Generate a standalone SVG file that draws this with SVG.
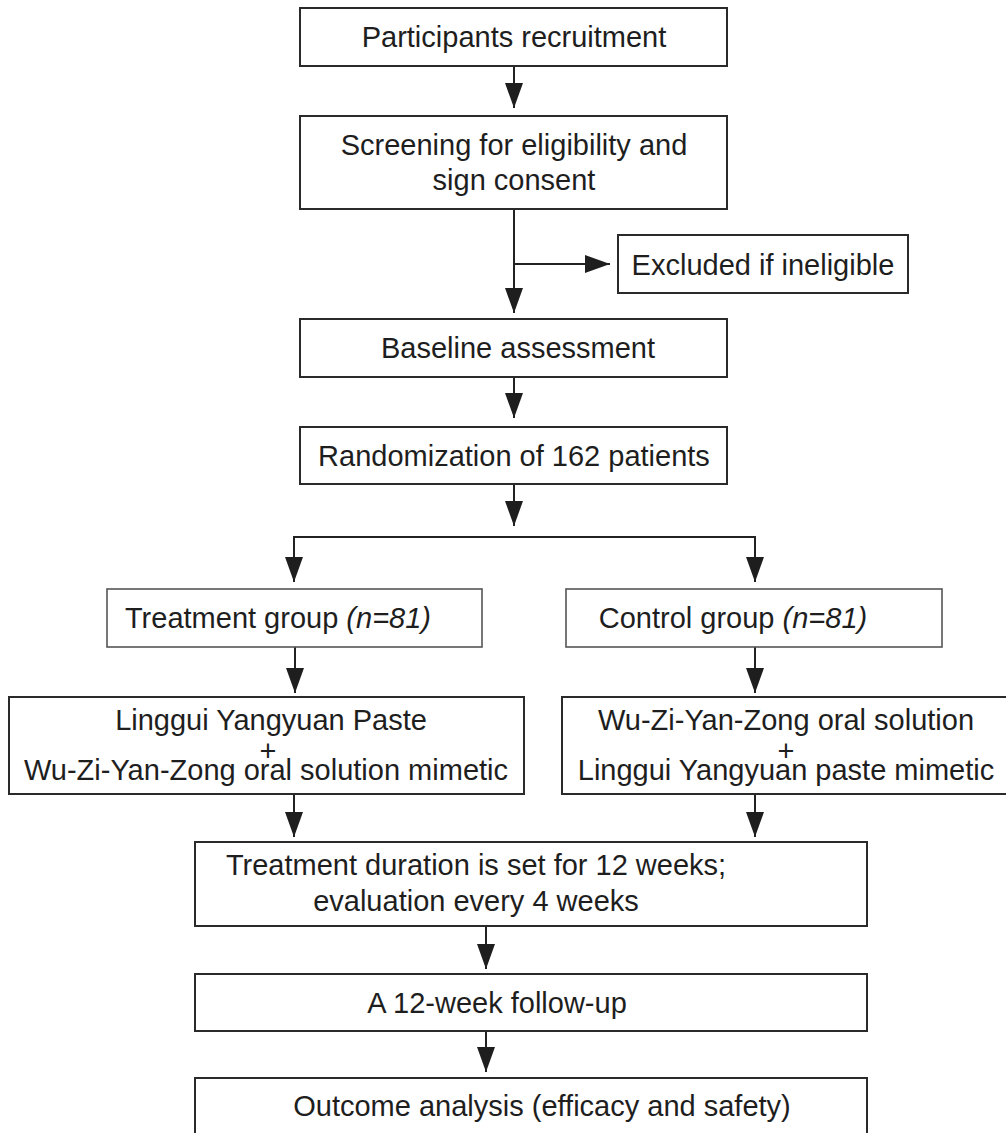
<svg xmlns="http://www.w3.org/2000/svg" width="1006" height="1133" viewBox="0 0 1006 1133">
<style>
.box{fill:#fff;stroke:#2a2a2a;stroke-width:2}
.lbox{fill:#fff;stroke:#555;stroke-width:1.6}
.t{font-family:"Liberation Sans",Arial,Helvetica,sans-serif;font-size:29px;fill:#1e1e1e;text-anchor:middle}
.c{fill:none;stroke:#222;stroke-width:2}
.i{font-style:italic}
</style>
<defs>
<marker id="ah" viewBox="0 0 25 18" refX="25" refY="9" markerWidth="25" markerHeight="18" markerUnits="userSpaceOnUse" orient="auto">
<path d="M0,0 L25,9 L0,18 z" fill="#1e1e1e"/>
</marker>
</defs>
<rect width="1006" height="1133" fill="#fff"/>
<g id="connectors">
<line class="c" x1="514" y1="66" x2="514" y2="108" marker-end="url(#ah)"/>
<line class="c" x1="514" y1="209" x2="514" y2="313" marker-end="url(#ah)"/>
<line class="c" x1="514" y1="264" x2="610" y2="264" marker-end="url(#ah)"/>
<line class="c" x1="514" y1="377" x2="514" y2="418" marker-end="url(#ah)"/>
<line class="c" x1="514" y1="484" x2="514" y2="526" marker-end="url(#ah)"/>
<line class="c" x1="293" y1="537" x2="756" y2="537"/>
<line class="c" x1="294" y1="537" x2="294" y2="582" marker-end="url(#ah)"/>
<line class="c" x1="755" y1="537" x2="755" y2="582" marker-end="url(#ah)"/>
<line class="c" x1="295" y1="647" x2="295" y2="693" marker-end="url(#ah)"/>
<line class="c" x1="755" y1="647" x2="755" y2="693" marker-end="url(#ah)"/>
<line class="c" x1="294" y1="794" x2="294" y2="837" marker-end="url(#ah)"/>
<line class="c" x1="755" y1="794" x2="755" y2="837" marker-end="url(#ah)"/>
<line class="c" x1="486" y1="926" x2="486" y2="969" marker-end="url(#ah)"/>
<line class="c" x1="486" y1="1031" x2="486" y2="1072" marker-end="url(#ah)"/>
</g>
<g id="recruitment">
<rect class="box" x="300" y="8" width="427" height="58"/>
<text class="t" x="514" y="47">Participants recruitment</text>
</g>
<g id="screening">
<rect class="box" x="300" y="116" width="427" height="93"/>
<text class="t" x="514" y="155">Screening for eligibility and</text>
<text class="t" x="514" y="190">sign consent</text>
</g>
<g id="excluded">
<rect class="box" x="618" y="235" width="290" height="58"/>
<text class="t" x="763" y="275">Excluded if ineligible</text>
</g>
<g id="baseline">
<rect class="box" x="300" y="319" width="427" height="58"/>
<text class="t" x="518" y="358">Baseline assessment</text>
</g>
<g id="randomization">
<rect class="box" x="300" y="427" width="427" height="57"/>
<text class="t" x="514" y="466">Randomization of 162 patients</text>
</g>
<g id="treatment-group">
<rect class="lbox" x="107" y="589" width="375" height="58"/>
<text class="t" x="278" y="628">Treatment group <tspan class="i">(n=81)</tspan></text>
</g>
<g id="control-group">
<rect class="lbox" x="566" y="589" width="376" height="58"/>
<text class="t" x="733" y="628">Control group <tspan class="i">(n=81)</tspan></text>
</g>
<g id="treatment-arm">
<rect class="box" x="9" y="697" width="515" height="97"/>
<text class="t" x="271" y="730">Linggui Yangyuan Paste</text>
<text class="t" x="268" y="761">+</text>
<text class="t" x="266" y="780">Wu-Zi-Yan-Zong oral solution mimetic</text>
</g>
<g id="control-arm">
<rect class="box" x="562" y="697" width="450" height="97"/>
<text class="t" x="786" y="730">Wu-Zi-Yan-Zong oral solution</text>
<text class="t" x="786" y="761">+</text>
<text class="t" x="786" y="780">Linggui Yangyuan paste mimetic</text>
</g>
<g id="duration">
<rect class="box" x="195" y="842" width="672" height="84"/>
<text class="t" x="476" y="875">Treatment duration is set for 12 weeks;</text>
<text class="t" x="476" y="911">evaluation every 4 weeks</text>
</g>
<g id="follow-up">
<rect class="box" x="195" y="974" width="672" height="57"/>
<text class="t" x="497" y="1013">A 12-week follow-up</text>
</g>
<g id="outcome">
<rect class="box" x="195" y="1078" width="672" height="70"/>
<text class="t" x="542" y="1116">Outcome analysis (efficacy and safety)</text>
</g>
</svg>
